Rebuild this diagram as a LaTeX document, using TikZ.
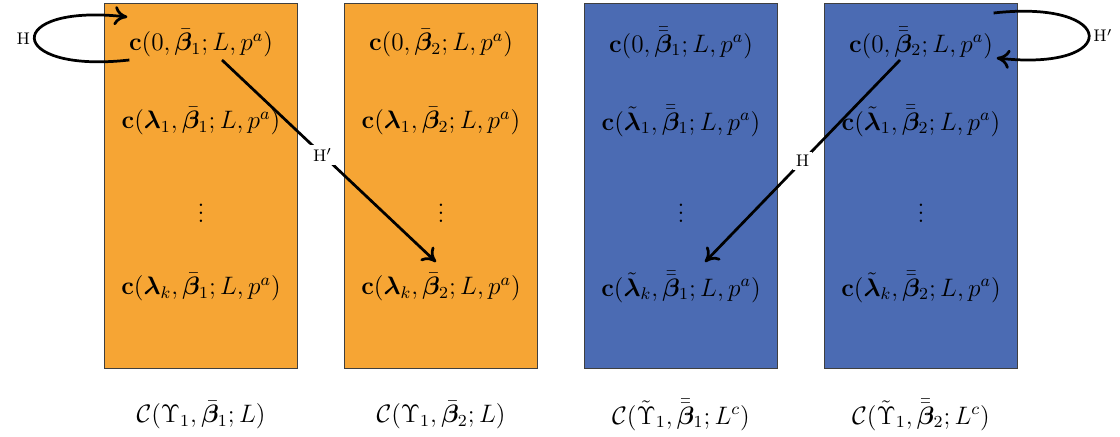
\documentclass[tikz,border=0pt]{standalone}
\usepackage{amsmath,amssymb,bm}
\usepackage{xcolor}
\usepackage{tikz}
\usetikzlibrary{calc,arrows.meta,positioning}
\definecolor{orc}{HTML}{F6A534}
\definecolor{blc}{HTML}{4B6BB3}
\definecolor{edgc}{HTML}{3F3F3F}
\tikzset{
  ar/.style={-{To[length=2.2mm,width=3.2mm]},line width=1.3pt,black},
  bx/.style={draw=edgc,thin,minimum width=91.5pt,minimum height=173pt,inner sep=0pt},
  cl/.style={inner sep=2pt,font=\large},
  lb/.style={font=\footnotesize,inner sep=1.5pt}
}

\begin{document}
\begin{tikzpicture}[x=0.475pt,y=-0.475pt]
\useasboundingbox (0,0) rectangle (1120,437);
% four columns: box, cells, caption
\foreach \i/\cx/\fc/\bb/\lm/\cp in {
  1/201/orc/{\bar{\bm\beta}_1}/{\bm\lambda}/{\mathcal{C}(\Upsilon_1,\bar{\bm\beta}_1;L)},
  2/441/orc/{\bar{\bm\beta}_2}/{\bm\lambda}/{\mathcal{C}(\Upsilon_1,\bar{\bm\beta}_2;L)},
  3/681/blc/{\bar{\bar{\bm\beta}}_1}/{\tilde{\bm\lambda}}/{\mathcal{C}(\tilde\Upsilon_1,\bar{\bar{\bm\beta}}_1;L^c)},
  4/921/blc/{\bar{\bar{\bm\beta}}_2}/{\tilde{\bm\lambda}}/{\mathcal{C}(\tilde\Upsilon_1,\bar{\bar{\bm\beta}}_2;L^c)}}{
  \node[bx,fill=\fc] (box\i) at (\cx,186) {};
  \node[cl] (c\i0) at (\cx,43) {$\mathbf{c}(0,\bb;L,p^a)$};
  \node[cl] (c\i1) at (\cx,121) {$\mathbf{c}(\lm_1,\bb;L,p^a)$};
  \node[cl] (c\i d) at (\cx,207) {$\vdots$};
  \node[cl] (c\i k) at (\cx,287) {$\mathbf{c}(\lm_k,\bb;L,p^a)$};
  \node[cl] (cap\i) at (\cx,415) {$\cp$};
}
% self loops
\draw[ar] ($(c10.west)+(5,17)$) .. controls +(-125,14) and +(-125,-14) .. ($(c10.west)+(3,-26)$)
  node[midway,left,lb] {H};
\draw[ar] ($(c40.east)+(-4,-30)$) .. controls +(125,-14) and +(125,14) .. ($(c40.east)+(-1,15)$)
  node[midway,right,lb] {H$'$};
% cross arrows
\draw[ar] ($(c10.center)+(21,17)$) -- ($(c2k.center)+(-5,-25)$)
  node[pos=0.47,fill=white,lb] {H$'$};
\draw[ar] ($(c40.center)+(-21,17)$) -- ($(c3k.center)+(24,-25)$)
  node[midway,fill=white,lb] {H};
\end{tikzpicture}
\end{document}
